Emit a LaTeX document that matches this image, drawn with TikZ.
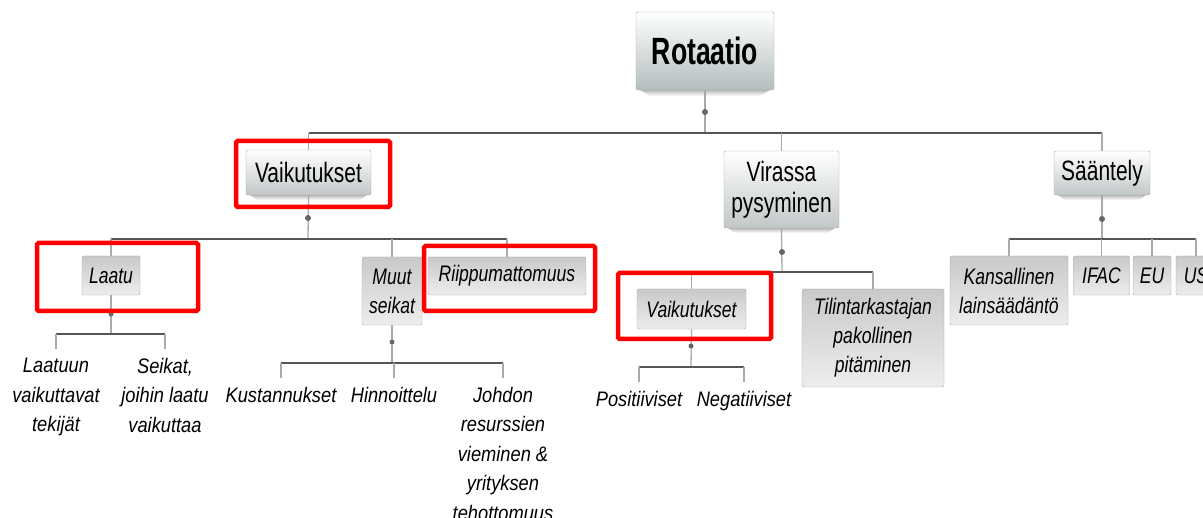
\documentclass[tikz,border=0pt]{standalone}
\usepackage{fontspec}
\setmainfont{Liberation Sans}
\newfontfamily\rootfnt[FakeStretch=0.7]{Liberation Sans}
\newfontfamily\lonefnt[FakeStretch=0.75]{Liberation Sans}
\newfontfamily\ltwofnt[FakeStretch=0.78]{Liberation Sans}
\newfontfamily\leaffnt[FakeStretch=0.87]{Liberation Sans}
\definecolor{busc}{HTML}{555555}
\definecolor{vlc}{HTML}{AAAAAA}
\definecolor{boxborder}{HTML}{A8A8A8}
\definecolor{rootbot}{HTML}{B4BDBD}
\definecolor{lonebot}{HTML}{C2C7C7}
\definecolor{ltwotop}{HTML}{C9C9C9}
\definecolor{ltwobot}{HTML}{EDEDED}
\definecolor{hired}{HTML}{FF0000}
\tikzset{
  rootbox/.style={draw=boxborder, rounded corners=1.5pt, top color=white, bottom color=rootbot, inner sep=0pt, align=center, font=\rootfnt\fontsize{38}{40}\selectfont\bfseries},
  lonebox/.style={draw=boxborder, rounded corners=1.5pt, top color=white, bottom color=lonebot, inner sep=0pt, align=center, font=\lonefnt\fontsize{28}{31}\selectfont},
  ltwobox/.style={draw=boxborder, rounded corners=1.5pt, top color=ltwotop, bottom color=ltwobot, inner sep=0pt, align=center, font=\ltwofnt\fontsize{22.5}{29}\selectfont\itshape},
  leaftext/.style={inner sep=0pt, align=center, anchor=north, font=\leaffnt\fontsize{21}{29.5}\selectfont\itshape},
  bus/.style={draw=busc, line width=1.1pt},
  vline/.style={draw=vlc, line width=1.3pt},
  leafline/.style={draw=vlc, line width=1.3pt, shorten >=9pt},
  knot/.style={fill=busc!90, draw=none},
  redbox/.style={draw=hired, line width=4.5pt, rounded corners=1.5pt},
  shadowbar/.style={top color=gray!55, bottom color=white, draw=none}
}
\begin{document}
\begin{tikzpicture}[x=1pt,y=-1pt]
\useasboundingbox (0,0) rectangle (1203,518);
\clip (0,0) rectangle (1203,518);
% shadows
\shade[shadowbar] (640,90) -- (770,90) -- (760,96) -- (650,96) -- cycle;
\shade[shadowbar] (250,195) -- (367,195) -- (360,200) -- (257,200) -- cycle;
\shade[shadowbar] (728,228) -- (835,228) -- (828,233) -- (735,233) -- cycle;
\shade[shadowbar] (1058,195) -- (1146,195) -- (1139,200) -- (1065,200) -- cycle;
% boxes
\node[rootbox, minimum width=138pt, minimum height=78pt] (root) at (705,51) {Rotaatio};
\node[lonebox, minimum width=125pt, minimum height=45pt] (vaik1) at (308.5,172.5) {Vaikutukset};
\node[lonebox, minimum width=115pt, minimum height=77pt] (viras) at (781.5,189.5) {Virassa\\pysyminen};
\node[lonebox, minimum width=96pt, minimum height=44pt] (saant) at (1102,173) {Sääntely};
\node[ltwobox, minimum width=58pt, minimum height=39pt] (laatu) at (111,275.5) {Laatu};
\node[ltwobox, minimum width=60pt, minimum height=68pt] (muut) at (392,291) {Muut\\seikat};
\node[ltwobox, minimum width=158pt, minimum height=38pt] (riip) at (507,276) {Riippumattomuus};
\node[ltwobox, minimum width=109pt, minimum height=40pt] (vaik2) at (691.5,309) {Vaikutukset};
\node[ltwobox, minimum width=142pt, minimum height=98pt] (tilin) at (873,338) {Tilintarkastajan\\pakollinen\\pitäminen};
\node[ltwobox, minimum width=118pt, minimum height=69pt] (kans) at (1009,290.5) {Kansallinen\\lainsäädäntö};
\node[ltwobox, minimum width=56pt, minimum height=39pt] (ifac) at (1101.5,275.5) {IFAC};
\node[ltwobox, minimum width=38pt, minimum height=39pt] (eu) at (1152,275.5) {EU};
\node[ltwobox, minimum width=40pt, minimum height=39pt] (us) at (1196,275.5) {US};
% leaf texts
\node[leaftext] (laatuun) at (56,358) {Laatuun\\vaikuttavat\\tekijät};
\node[leaftext] (seikat) at (165,358) {Seikat,\\joihin laatu\\vaikuttaa};
\node[leaftext] (kust) at (281,387) {Kustannukset};
\node[leaftext] (hinn) at (394,387) {Hinnoittelu};
\node[leaftext] (johd) at (503,387) {Johdon\\resurssien\\vieminen \&\\yrityksen\\tehottomuus};
\node[leaftext] (posi) at (639,391) {Positiiviset};
\node[leaftext] (nega) at (744,391) {Negatiiviset};
% bus coordinates
\coordinate (b0) at (705,133);
\coordinate (b1) at (308,239);
\coordinate (b2) at (392,363);
\coordinate (b3) at (111,334);
\coordinate (b4) at (782,272);
\coordinate (b5) at (691,367);
\coordinate (b6) at (1102,239);
% level 0 -> 1
\draw[vline] (root.south) -- (b0);
\draw[bus] (vaik1.north |- b0) -- (saant.north |- b0);
\draw[vline] (vaik1.north |- b0) -- (vaik1.north);
\draw[vline] (viras.north |- b0) -- (viras.north);
\draw[vline] (saant.north |- b0) -- (saant.north);
\fill[knot] (705,112) circle (3pt);
% vaikutukset -> children
\draw[vline] (vaik1.south) -- (b1);
\draw[bus] (laatu.north |- b1) -- (riip.north |- b1);
\draw[vline] (laatu.north |- b1) -- (laatu.north);
\draw[vline] (muut.north |- b1) -- (muut.north);
\draw[vline] (riip.north |- b1) -- (riip.north);
\fill[knot] (308,218) circle (3pt);
% laatu -> leaves
\draw[vline] (laatu.south) -- (b3);
\draw[bus] (laatuun.north |- b3) -- (seikat.north |- b3);
\draw[leafline] (laatuun.north |- b3) -- (laatuun.north);
\draw[leafline] (seikat.north |- b3) -- (seikat.north);
\fill[knot] (111,314) circle (2.5pt);
% muut -> leaves
\draw[vline] (muut.south) -- (b2);
\draw[bus] (kust.north |- b2) -- (johd.north |- b2);
\draw[leafline] (kust.north |- b2) -- (kust.north);
\draw[leafline] (hinn.north |- b2) -- (hinn.north);
\draw[leafline] (johd.north |- b2) -- (johd.north);
\fill[knot] (392,342) circle (2.5pt);
% virassa -> children
\draw[vline] (viras.south) -- (b4);
\draw[bus] (vaik2.north |- b4) -- (tilin.north |- b4);
\draw[vline] (vaik2.north |- b4) -- (vaik2.north);
\draw[vline] (tilin.north |- b4) -- (tilin.north);
\fill[knot] (782,252) circle (3pt);
% vaik2 -> leaves
\draw[vline] (vaik2.south) -- (b5);
\draw[bus] (posi.north |- b5) -- (nega.north |- b5);
\draw[leafline] (posi.north |- b5) -- (posi.north);
\draw[leafline] (nega.north |- b5) -- (nega.north);
\fill[knot] (691,346) circle (2.5pt);
% saantely -> children
\draw[vline] (saant.south) -- (b6);
\draw[bus] (kans.north |- b6) -- (us.north |- b6);
\draw[vline] (kans.north |- b6) -- (kans.north);
\draw[vline] (ifac.north |- b6) -- (ifac.north);
\draw[vline] (eu.north |- b6) -- (eu.north);
\draw[vline] (us.north |- b6) -- (us.north);
\fill[knot] (1102,219) circle (3pt);
% red highlight frames
\draw[redbox] (236,141) rectangle (390,207);
\draw[redbox] (37,243) rectangle (198,311);
\draw[redbox] (424,246) rectangle (595,311);
\draw[redbox] (618,273) rectangle (771,339);
\end{tikzpicture}
\end{document}
